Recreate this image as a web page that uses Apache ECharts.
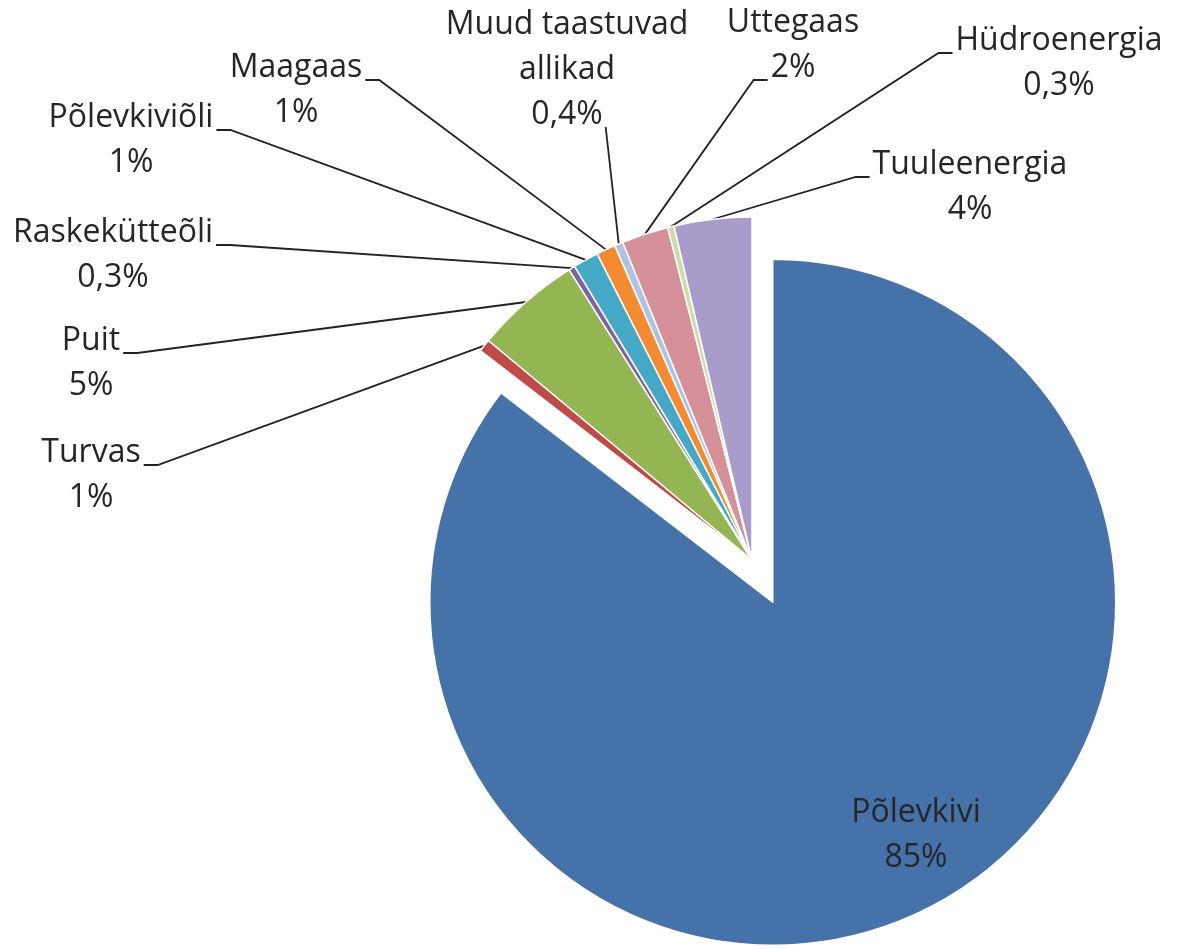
<!DOCTYPE html>
<html>
<head>
<meta charset="utf-8">
<script src="https://cdn.jsdelivr.net/npm/echarts@6/dist/echarts.min.js"></script>
<style>html,body{margin:0;padding:0;background:#fff}#c{width:1177px;height:949px}</style>
</head>
<body>
<div id="c"></div>
<script>
// ---- data ----
const categories = ['Põlevkivi', 'Turvas', 'Puit', 'Raskekütteõli', 'Põlevkiviõli', 'Maagaas', 'Muud taastuvad allikad', 'Uttegaas', 'Hüdroenergia', 'Tuuleenergia'];
const shares = [85.45, 0.6, 5.0, 0.3, 1.2, 0.9, 0.4, 2.2, 0.3, 3.65];

// ---- styles / layout ----
const colors = ['#4672AA', '#BE4B48', '#94B652', '#7E63A1', '#45A8C7', '#F28B32', '#AFC2E3', '#D6909A', '#CDDDA8', '#A99CCB'];
// [label centre x, first-line baseline y, side where the leader line attaches]
const labelPlacement = [
  [916, 825, 'none'],
  [91, 465, 'right'],
  [91, 353, 'right'],
  [113, 245, 'right'],
  [131, 130, 'right'],
  [296, 80, 'right'],
  [567, 37, 'belowRight'],
  [793, 35, 'leftSecond'],
  [1059, 53, 'left'],
  [970, 177, 'left']
];
const PIE_CENTER = [752, 560], PIE_R = 343, EXPLODE = 47;
const FS = 32, LH = 45, FONT = '"Open Sans", Lato, sans-serif';
const BASE_OFF = LH / 2 + 0.38 * FS;

const ctx = document.createElement('canvas').getContext('2d');
ctx.font = FS + 'px ' + FONT;
const tw = s => ctx.measureText(s).width;

function pct(v) {
  const r = Math.round(v);
  return r >= 1 ? r + '%' : v.toFixed(1).replace('.', ',') + '%';
}
function wrap(name) {
  if (name.length <= 16) return name;
  const lines = []; let cur = '';
  name.split(' ').forEach(w => {
    if (cur && (cur + ' ' + w).length > 16) { lines.push(cur); cur = w; }
    else cur = cur ? cur + ' ' + w : w;
  });
  lines.push(cur);
  return lines.join('\n');
}

// exploded first slice: shift its centre along its bisector
const total = shares.reduce((a, b) => a + b, 0);
const midDeg = 90 - (shares[0] / total * 360) / 2;
const midRad = midDeg * Math.PI / 180;
const explodedCenter = [PIE_CENTER[0] + Math.cos(midRad) * EXPLODE, PIE_CENTER[1] - Math.sin(midRad) * EXPLODE];

const HIDDEN = { color: 'rgba(0,0,0,0)', borderWidth: 0 };
function buildData(showIdx) {
  return categories.map((n, i) => {
    const vis = showIdx(i);
    return {
      name: n,
      value: shares[i],
      itemStyle: vis ? { color: colors[i] } : HIDDEN,
      label: { show: vis },
      labelLine: { show: vis && i !== 0 }
    };
  });
}

function labelLayout(p) {
  if (!p.text) return {};
  const pl = labelPlacement[p.dataIndex];
  const cx = pl[0], base = pl[1], side = pl[2];
  const lines = String(p.text).split('\n');
  const out = { x: cx, y: base - BASE_OFF, align: 'center', verticalAlign: 'top' };
  if (side === 'none' || !p.labelLinePoints || !p.labelLinePoints.length) return out;
  const s = p.labelLinePoints[0];
  const TICK = 14, GAP = 3;
  let end, bend = null;
  if (side === 'right') {
    end = [cx + tw(lines[0]) / 2 + GAP, base];
    bend = [end[0] + TICK, end[1]];
  } else if (side === 'left') {
    end = [cx - tw(lines[0]) / 2 - GAP, base];
    bend = [end[0] - TICK, end[1]];
  } else if (side === 'leftSecond') {
    end = [cx - tw(lines[1]) / 2 - GAP, base + LH];
    bend = [end[0] - TICK, end[1]];
  } else {
    const k = lines.length - 1;
    end = [cx + tw(lines[k]) / 2 + GAP, base + k * LH];
  }
  out.labelLinePoints = bend ? [s, bend, end] : [s, end];
  return out;
}

const common = {
  type: 'pie',
  radius: PIE_R,
  startAngle: 90,
  clockwise: true,
  silent: true,
  avoidLabelOverlap: false,
  itemStyle: { borderColor: '#ffffff', borderWidth: 1.5 },
  label: {
    position: 'outside',
    formatter: p => wrap(p.name) + '\n' + pct(p.value),
    fontFamily: FONT,
    fontSize: FS,
    lineHeight: LH,
    color: '#262626'
  },
  labelLine: { length: 10, length2: 10, lineStyle: { color: '#222222', width: 1.8 } },
  labelLayout: labelLayout
};

const chart = echarts.init(document.getElementById('c'), null, { renderer: 'canvas' });
chart.setOption({
  animation: false,
  backgroundColor: '#ffffff',
  series: [
    Object.assign({}, common, { center: explodedCenter, data: buildData(i => i === 0) }),
    Object.assign({}, common, { center: PIE_CENTER, data: buildData(i => i !== 0) })
  ]
});
</script>
</body>
</html>
